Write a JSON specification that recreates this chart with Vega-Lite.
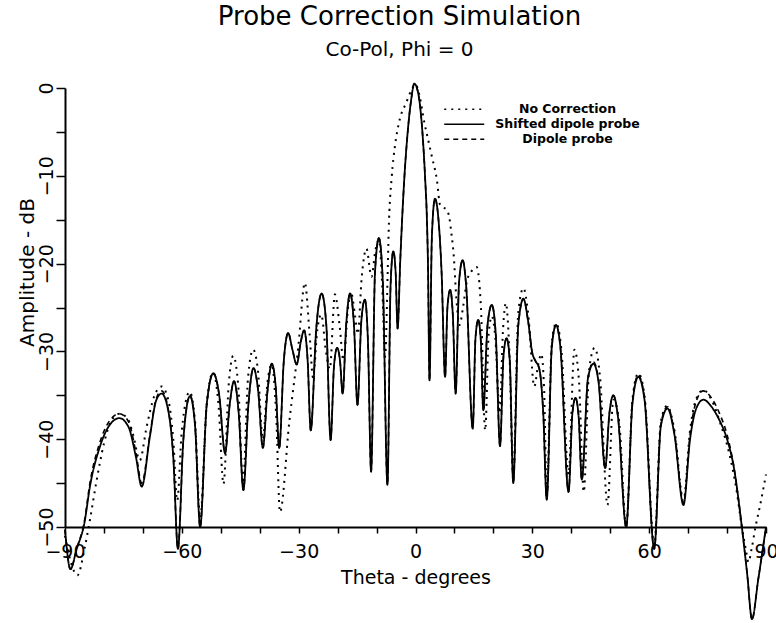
{
  "$schema": "https://vega.github.io/schema/vega-lite/v6.json",
  "width": 701,
  "height": 439,
  "autosize": {"type": "none"},
  "padding": {"left": 65, "top": 88, "right": 10, "bottom": 96},
  "background": "white",
  "title": {
    "text": "Probe Correction Simulation",
    "subtitle": "Co-Pol, Phi = 0",
    "anchor": "middle",
    "dx": -16,
    "font": "DejaVu Sans",
    "fontSize": 26,
    "fontWeight": "normal",
    "color": "black",
    "subtitleFont": "DejaVu Sans",
    "subtitleFontSize": 20,
    "subtitleColor": "black",
    "subtitlePadding": 10,
    "offset": 20
  },
  "datasets": {
    "solid": [
      {"theta":-90,"dB":-50.3},{"theta":-88.6,"dB":-54.8},{"theta":-87,"dB":-52.5},{"theta":-85,"dB":-49.5},{"theta":-83.6,"dB":-45.4},{"theta":-81,"dB":-40.8},{"theta":-78.4,"dB":-38.3},{"theta":-76,"dB":-37.6},{"theta":-73.7,"dB":-38.6},{"theta":-71.8,"dB":-42},{"theta":-70.3,"dB":-45.4},{"theta":-68.2,"dB":-39.7},{"theta":-66.6,"dB":-35.6},{"theta":-65.2,"dB":-34.8},{"theta":-63.6,"dB":-36.5},{"theta":-62.2,"dB":-42},{"theta":-61,"dB":-52.5},{"theta":-59.6,"dB":-40},{"theta":-57.9,"dB":-35.1},{"theta":-56.6,"dB":-38.5},{"theta":-55.3,"dB":-50},{"theta":-53.6,"dB":-36},{"theta":-51.9,"dB":-32.5},{"theta":-50.4,"dB":-35},{"theta":-48.9,"dB":-41.6},{"theta":-47.7,"dB":-36},{"theta":-46.6,"dB":-33.4},{"theta":-45.4,"dB":-37},{"theta":-44.2,"dB":-45.8},{"theta":-42.9,"dB":-36},{"theta":-41.6,"dB":-31.9},{"theta":-40.4,"dB":-34.5},{"theta":-39.2,"dB":-41},{"theta":-38,"dB":-34.5},{"theta":-36.9,"dB":-31.4},{"theta":-35.9,"dB":-34},{"theta":-35,"dB":-41},{"theta":-33.8,"dB":-31},{"theta":-32.7,"dB":-27.9},{"theta":-31.6,"dB":-29.8},{"theta":-30.5,"dB":-31.5},{"theta":-29.5,"dB":-29},{"theta":-28.6,"dB":-27.6},{"theta":-27.7,"dB":-31},{"theta":-26.9,"dB":-39},{"theta":-25.5,"dB":-27.5},{"theta":-24.1,"dB":-23.4},{"theta":-22.9,"dB":-27},{"theta":-21.8,"dB":-40.1},{"theta":-20.9,"dB":-31.5},{"theta":-20.1,"dB":-29.6},{"theta":-19.4,"dB":-31},{"theta":-18.7,"dB":-34.8},{"theta":-17.8,"dB":-27},{"theta":-16.8,"dB":-23.4},{"theta":-15.8,"dB":-27},{"theta":-14.9,"dB":-36.1},{"theta":-13.9,"dB":-26.5},{"theta":-13,"dB":-24.1},{"theta":-12.2,"dB":-29},{"theta":-11.4,"dB":-43.7},{"theta":-10.4,"dB":-21},{"theta":-9.4,"dB":-17.1},{"theta":-8.4,"dB":-22},{"theta":-7.2,"dB":-45.2},{"theta":-6.4,"dB":-22.5},{"theta":-5.7,"dB":-18.6},{"theta":-5.1,"dB":-21},{"theta":-4.6,"dB":-27.4},{"theta":-3.9,"dB":-19.5},{"theta":-2.9,"dB":-10.5},{"theta":-2,"dB":-5},{"theta":-1.1,"dB":-1.3},{"theta":-0.3,"dB":0.5},{"theta":0.6,"dB":-0.4},{"theta":1.5,"dB":-3.5},{"theta":2.5,"dB":-10.5},{"theta":2.9,"dB":-14.5},{"theta":3.2,"dB":-20},{"theta":3.6,"dB":-33.3},{"theta":4.2,"dB":-17},{"theta":5,"dB":-12.6},{"theta":5.8,"dB":-14.5},{"theta":6.7,"dB":-21},{"theta":7.6,"dB":-32.9},{"theta":8.2,"dB":-25},{"theta":8.9,"dB":-23},{"theta":9.6,"dB":-26},{"theta":10.3,"dB":-34.8},{"theta":11.2,"dB":-22},{"theta":12.1,"dB":-19.6},{"theta":13,"dB":-22.5},{"theta":14.7,"dB":-38.8},{"theta":15.4,"dB":-28.5},{"theta":16.1,"dB":-26.4},{"theta":16.8,"dB":-29},{"theta":17.4,"dB":-36.7},{"theta":18.5,"dB":-27},{"theta":19.6,"dB":-24.7},{"theta":20.6,"dB":-28},{"theta":21.7,"dB":-40.8},{"theta":22.6,"dB":-30.5},{"theta":23.4,"dB":-28.5},{"theta":24.2,"dB":-31},{"theta":25.1,"dB":-45},{"theta":26.4,"dB":-27},{"theta":27.7,"dB":-24},{"theta":28.9,"dB":-26.5},{"theta":30,"dB":-30.2},{"theta":30.7,"dB":-31},{"theta":31.8,"dB":-32},{"theta":32.8,"dB":-37},{"theta":33.7,"dB":-46.9},{"theta":35,"dB":-29.5},{"theta":36.1,"dB":-27},{"theta":37.2,"dB":-29.5},{"theta":39.3,"dB":-46},{"theta":40.3,"dB":-37},{"theta":41.1,"dB":-35.3},{"theta":41.9,"dB":-37.5},{"theta":42.7,"dB":-44.6},{"theta":44.3,"dB":-33},{"theta":45.7,"dB":-31.4},{"theta":47,"dB":-33.5},{"theta":48.7,"dB":-43.3},{"theta":49.8,"dB":-37},{"theta":50.8,"dB":-35},{"theta":52,"dB":-37.5},{"theta":54.1,"dB":-50},{"theta":55.7,"dB":-36},{"theta":57.2,"dB":-32.9},{"theta":58.8,"dB":-35.5},{"theta":61.3,"dB":-52.5},{"theta":63,"dB":-38.5},{"theta":64.7,"dB":-36.5},{"theta":66.5,"dB":-39.5},{"theta":68.8,"dB":-47.5},{"theta":70.5,"dB":-40},{"theta":72,"dB":-36.6},{"theta":73.9,"dB":-35.5},{"theta":76,"dB":-36.3},{"theta":78,"dB":-37.8},{"theta":80,"dB":-40},{"theta":81.7,"dB":-43.1},{"theta":83.8,"dB":-50},{"theta":85.2,"dB":-55.5},{"theta":86.4,"dB":-60.5},{"theta":88,"dB":-56},{"theta":90,"dB":-50}
    ],
    "dashed": [
      {"theta":-90,"dB":-50.3},{"theta":-88.6,"dB":-54.8},{"theta":-87,"dB":-52.5},{"theta":-85,"dB":-49.3},{"theta":-83.6,"dB":-45},{"theta":-81,"dB":-40.3},{"theta":-78.4,"dB":-37.8},{"theta":-76,"dB":-37.1},{"theta":-73.7,"dB":-38},{"theta":-71.8,"dB":-41.5},{"theta":-70.3,"dB":-45},{"theta":-68.2,"dB":-39.5},{"theta":-66.6,"dB":-35.4},{"theta":-65.2,"dB":-34.5},{"theta":-63.6,"dB":-36.3},{"theta":-62.2,"dB":-42},{"theta":-61,"dB":-52.5},{"theta":-59.6,"dB":-40},{"theta":-57.9,"dB":-35},{"theta":-56.6,"dB":-38.5},{"theta":-55.3,"dB":-50},{"theta":-53.6,"dB":-36},{"theta":-51.9,"dB":-32.5},{"theta":-50.4,"dB":-35},{"theta":-48.9,"dB":-41.6},{"theta":-47.7,"dB":-36},{"theta":-46.6,"dB":-33.4},{"theta":-45.4,"dB":-37},{"theta":-44.2,"dB":-45.8},{"theta":-42.9,"dB":-36},{"theta":-41.6,"dB":-31.9},{"theta":-40.4,"dB":-34.5},{"theta":-39.2,"dB":-41},{"theta":-38,"dB":-34.5},{"theta":-36.9,"dB":-31.4},{"theta":-35.9,"dB":-34},{"theta":-35,"dB":-41},{"theta":-33.8,"dB":-31},{"theta":-32.7,"dB":-27.9},{"theta":-31.6,"dB":-29.8},{"theta":-30.5,"dB":-31.5},{"theta":-29.5,"dB":-29},{"theta":-28.6,"dB":-27.6},{"theta":-27.7,"dB":-31},{"theta":-26.9,"dB":-39},{"theta":-25.5,"dB":-27.5},{"theta":-24.1,"dB":-23.4},{"theta":-22.9,"dB":-27},{"theta":-21.8,"dB":-40.1},{"theta":-20.9,"dB":-31.5},{"theta":-20.1,"dB":-29.6},{"theta":-19.4,"dB":-31},{"theta":-18.7,"dB":-34.8},{"theta":-17.8,"dB":-27},{"theta":-16.8,"dB":-23.4},{"theta":-15.8,"dB":-27},{"theta":-14.9,"dB":-36.1},{"theta":-13.9,"dB":-26.5},{"theta":-13,"dB":-24.1},{"theta":-12.2,"dB":-29},{"theta":-11.4,"dB":-43.7},{"theta":-10.4,"dB":-21},{"theta":-9.4,"dB":-17.1},{"theta":-8.4,"dB":-22},{"theta":-7.2,"dB":-45.2},{"theta":-6.4,"dB":-22.5},{"theta":-5.7,"dB":-18.6},{"theta":-5.1,"dB":-21},{"theta":-4.6,"dB":-27.4},{"theta":-3.9,"dB":-19.5},{"theta":-2.9,"dB":-10.5},{"theta":-2,"dB":-5},{"theta":-1.1,"dB":-1.3},{"theta":-0.3,"dB":0.5},{"theta":0.6,"dB":-0.4},{"theta":1.5,"dB":-3.5},{"theta":2.5,"dB":-10.5},{"theta":2.9,"dB":-14.5},{"theta":3.2,"dB":-20},{"theta":3.6,"dB":-33.3},{"theta":4.2,"dB":-17},{"theta":5,"dB":-12.6},{"theta":5.8,"dB":-14.5},{"theta":6.7,"dB":-21},{"theta":7.6,"dB":-32.9},{"theta":8.2,"dB":-25},{"theta":8.9,"dB":-23},{"theta":9.6,"dB":-26},{"theta":10.3,"dB":-34.8},{"theta":11.2,"dB":-22},{"theta":12.1,"dB":-19.6},{"theta":13,"dB":-22.5},{"theta":14.7,"dB":-38.8},{"theta":15.4,"dB":-28.5},{"theta":16.1,"dB":-26.4},{"theta":16.8,"dB":-29},{"theta":17.4,"dB":-36.7},{"theta":18.5,"dB":-27},{"theta":19.6,"dB":-24.7},{"theta":20.6,"dB":-28},{"theta":21.7,"dB":-40.8},{"theta":22.6,"dB":-30.5},{"theta":23.4,"dB":-28.5},{"theta":24.2,"dB":-31},{"theta":25.1,"dB":-45},{"theta":26.4,"dB":-27},{"theta":27.7,"dB":-24},{"theta":28.9,"dB":-26.5},{"theta":30,"dB":-30.2},{"theta":30.7,"dB":-31},{"theta":31.8,"dB":-32},{"theta":32.8,"dB":-37},{"theta":33.7,"dB":-46.9},{"theta":35,"dB":-29.5},{"theta":36.1,"dB":-27},{"theta":37.2,"dB":-29.5},{"theta":39.3,"dB":-46},{"theta":40.3,"dB":-37},{"theta":41.1,"dB":-35.3},{"theta":41.9,"dB":-37.5},{"theta":42.7,"dB":-44.6},{"theta":44.3,"dB":-33},{"theta":45.7,"dB":-31.2},{"theta":47,"dB":-33.3},{"theta":48.7,"dB":-43.3},{"theta":49.8,"dB":-37},{"theta":50.8,"dB":-35},{"theta":52,"dB":-37.5},{"theta":54.1,"dB":-50},{"theta":55.7,"dB":-35.8},{"theta":57.2,"dB":-32.7},{"theta":58.8,"dB":-35.3},{"theta":61.3,"dB":-52.5},{"theta":63,"dB":-38.3},{"theta":64.7,"dB":-36.3},{"theta":66.5,"dB":-39.3},{"theta":68.8,"dB":-47.3},{"theta":70.5,"dB":-39.5},{"theta":72,"dB":-35.8},{"theta":73.9,"dB":-34.5},{"theta":76,"dB":-35.3},{"theta":78,"dB":-37},{"theta":80,"dB":-39.5},{"theta":81.7,"dB":-43},{"theta":83.8,"dB":-50},{"theta":85.2,"dB":-55.5},{"theta":86.4,"dB":-60.5},{"theta":88,"dB":-56},{"theta":90,"dB":-50}
    ],
    "dotted": [
      {"theta":-90,"dB":-51},{"theta":-88.5,"dB":-54},{"theta":-86.8,"dB":-55.5},{"theta":-85,"dB":-52.5},{"theta":-83.6,"dB":-49.2},{"theta":-82,"dB":-45},{"theta":-80,"dB":-40.5},{"theta":-78,"dB":-37.8},{"theta":-76,"dB":-37.1},{"theta":-74,"dB":-37.6},{"theta":-72.5,"dB":-39.5},{"theta":-70.8,"dB":-42.4},{"theta":-69,"dB":-38.5},{"theta":-67,"dB":-35},{"theta":-65.2,"dB":-34},{"theta":-63.5,"dB":-35.5},{"theta":-62.2,"dB":-40},{"theta":-61.2,"dB":-47},{"theta":-60,"dB":-39},{"theta":-58,"dB":-34.6},{"theta":-56.6,"dB":-38},{"theta":-55.3,"dB":-49},{"theta":-53.6,"dB":-36},{"theta":-52,"dB":-32.4},{"theta":-50.6,"dB":-36},{"theta":-49.3,"dB":-45.1},{"theta":-48,"dB":-34},{"theta":-46.8,"dB":-30.5},{"theta":-45.5,"dB":-34},{"theta":-44.3,"dB":-45},{"theta":-43,"dB":-33},{"theta":-41.7,"dB":-29.8},{"theta":-40.5,"dB":-32},{"theta":-39.2,"dB":-40},{"theta":-38,"dB":-33.5},{"theta":-36.9,"dB":-31.5},{"theta":-35.8,"dB":-37},{"theta":-34.8,"dB":-48.3},{"theta":-32.4,"dB":-38},{"theta":-30.1,"dB":-29.5},{"theta":-28.4,"dB":-22.2},{"theta":-27.2,"dB":-28},{"theta":-26.3,"dB":-33},{"theta":-25.2,"dB":-27.5},{"theta":-24.2,"dB":-25.8},{"theta":-23,"dB":-30},{"theta":-22,"dB":-32},{"theta":-20.7,"dB":-23.5},{"theta":-19.5,"dB":-27},{"theta":-18.5,"dB":-31},{"theta":-17.3,"dB":-25},{"theta":-16.6,"dB":-23.2},{"theta":-15.5,"dB":-26},{"theta":-14.8,"dB":-28},{"theta":-13.8,"dB":-21.5},{"theta":-12.6,"dB":-18.3},{"theta":-11.3,"dB":-21.5},{"theta":-10.3,"dB":-18.5},{"theta":-9.4,"dB":-17.3},{"theta":-8.6,"dB":-22},{"theta":-7.8,"dB":-30.6},{"theta":-7.2,"dB":-22},{"theta":-6.9,"dB":-16.5},{"theta":-6.1,"dB":-10.1},{"theta":-5.3,"dB":-6.7},{"theta":-4,"dB":-3.5},{"theta":-2.4,"dB":-1.7},{"theta":-1,"dB":-0.2},{"theta":0,"dB":0.4},{"theta":1,"dB":-0.8},{"theta":2.3,"dB":-4},{"theta":3.2,"dB":-5.8},{"theta":4.2,"dB":-7.8},{"theta":5.5,"dB":-10.5},{"theta":6.3,"dB":-13.3},{"theta":7,"dB":-13.6},{"theta":7.9,"dB":-13.8},{"theta":8.7,"dB":-14.8},{"theta":9.2,"dB":-16.5},{"theta":9.8,"dB":-19},{"theta":10.5,"dB":-24},{"theta":11.3,"dB":-27},{"theta":12.2,"dB":-25},{"theta":13.2,"dB":-22},{"theta":14.5,"dB":-20.8},{"theta":15.7,"dB":-20.4},{"theta":16.8,"dB":-25},{"theta":17.9,"dB":-39},{"theta":18.8,"dB":-28},{"theta":19.6,"dB":-26},{"theta":20.5,"dB":-28.5},{"theta":21.6,"dB":-37},{"theta":22.5,"dB":-27.3},{"theta":23.2,"dB":-24.5},{"theta":24.1,"dB":-30},{"theta":25.1,"dB":-44},{"theta":26.4,"dB":-25.5},{"theta":27.7,"dB":-22.8},{"theta":29,"dB":-26},{"theta":30.5,"dB":-34},{"theta":31.5,"dB":-31.5},{"theta":32.3,"dB":-30.3},{"theta":33,"dB":-34},{"theta":33.7,"dB":-46},{"theta":35,"dB":-29},{"theta":36.1,"dB":-26.8},{"theta":37.5,"dB":-30},{"theta":39.3,"dB":-44},{"theta":40.8,"dB":-29.8},{"theta":42,"dB":-33.5},{"theta":43.2,"dB":-46},{"theta":44.6,"dB":-32},{"theta":46,"dB":-29.6},{"theta":47.4,"dB":-33},{"theta":49.3,"dB":-47.5},{"theta":50.8,"dB":-35.5},{"theta":52.3,"dB":-38},{"theta":54.1,"dB":-50},{"theta":55.7,"dB":-35.5},{"theta":57.2,"dB":-32.5},{"theta":58.8,"dB":-35},{"theta":61.3,"dB":-52},{"theta":63,"dB":-38},{"theta":64.6,"dB":-36.2},{"theta":66.5,"dB":-39},{"theta":68.8,"dB":-47},{"theta":70.5,"dB":-39},{"theta":72,"dB":-35.5},{"theta":73.9,"dB":-34.4},{"theta":76,"dB":-35.5},{"theta":78.5,"dB":-38.5},{"theta":80.5,"dB":-41.5},{"theta":82.5,"dB":-46},{"theta":83.8,"dB":-50},{"theta":84.8,"dB":-52.5},{"theta":85.5,"dB":-54},{"theta":86.3,"dB":-52.5},{"theta":87.3,"dB":-50},{"theta":88.5,"dB":-47.5},{"theta":90,"dB":-44}
    ]
  },
  "encoding": {
    "x": {
      "field": "theta",
      "type": "quantitative",
      "scale": {"domain": [-90, 90], "nice": false, "zero": false},
      "axis": {
        "title": "Theta - degrees",
        "values": [-90, -80, -70, -60, -50, -40, -30, -20, -10, 0, 10, 20, 30, 40, 50, 60, 70, 80, 90],
        "labelExpr": "datum.value % 30 === 0 ? datum.label : ''",
        "grid": false,
        "tickSize": 6,
        "tickWidth": 1.5,
        "tickColor": "black",
        "domainColor": "black",
        "domainWidth": 2,
        "labelFont": "DejaVu Sans",
        "labelFontSize": 19,
        "labelColor": "black",
        "labelPadding": 9,
        "labelFlush": false,
        "labelOverlap": false,
        "titleFont": "DejaVu Sans",
        "titleFontSize": 19,
        "titleFontWeight": "normal",
        "titleColor": "black",
        "titlePadding": 7
      }
    },
    "y": {
      "field": "dB",
      "type": "quantitative",
      "scale": {"domain": [-50, 0], "nice": false, "zero": false},
      "axis": {
        "title": "Amplitude - dB",
        "values": [-50, -45, -40, -35, -30, -25, -20, -15, -10, -5, 0],
        "labelExpr": "datum.value % 10 === 0 ? datum.label : ''",
        "grid": false,
        "tickSize": 9,
        "tickWidth": 1.5,
        "tickColor": "black",
        "domainColor": "black",
        "domainWidth": 2,
        "labelFont": "DejaVu Sans",
        "labelFontSize": 19,
        "labelColor": "black",
        "labelAngle": 270,
        "labelAlign": "center",
        "labelBaseline": "alphabetic",
        "labelPadding": 4,
        "labelFlush": false,
        "labelOverlap": false,
        "titleFont": "DejaVu Sans",
        "titleFontSize": 20,
        "titleFontWeight": "normal",
        "titleColor": "black",
        "titleAngle": 270,
        "titleAlign": "center",
        "titleBaseline": "alphabetic",
        "titleX": -32,
        "titleY": 184
      }
    }
  },
  "layer": [
    {
      "data": {"name": "dotted"},
      "mark": {"type": "line", "interpolate": "monotone", "color": "black", "strokeWidth": 2},
      "encoding": {
        "strokeDash": {
          "datum": "No Correction",
          "type": "nominal",
          "scale": {"domain": ["No Correction", "Shifted dipole probe", "Dipole probe"], "range": [[2, 5], [1, 0], [5, 4]]},
          "legend": {
            "orient": "none",
            "legendX": 393,
            "legendY": 15,
            "title": null,
            "padding": 0,
            "symbolType": "M-10,0H10",
            "symbolSize": 16,
            "symbolStrokeWidth": 1.6,
            "symbolStrokeColor": "black",
            "labelFont": "DejaVu Sans",
            "labelFontWeight": "bold",
            "labelFontSize": 12.5,
            "labelColor": "black",
            "labelAlign": "center",
            "labelOffset": 97,
            "rowPadding": 2,
            "labelLimit": 300
          }
        }
      }
    },
    {
      "data": {"name": "dashed"},
      "mark": {"type": "line", "interpolate": "monotone", "color": "black", "strokeWidth": 1.6},
      "encoding": {
        "strokeDash": {"datum": "Dipole probe", "type": "nominal"}
      }
    },
    {
      "data": {"name": "solid"},
      "mark": {"type": "line", "interpolate": "monotone", "color": "black", "strokeWidth": 1.8},
      "encoding": {
        "strokeDash": {"datum": "Shifted dipole probe", "type": "nominal"}
      }
    }
  ],
  "config": {
    "view": {"stroke": null},
    "font": "DejaVu Sans"
  }
}
